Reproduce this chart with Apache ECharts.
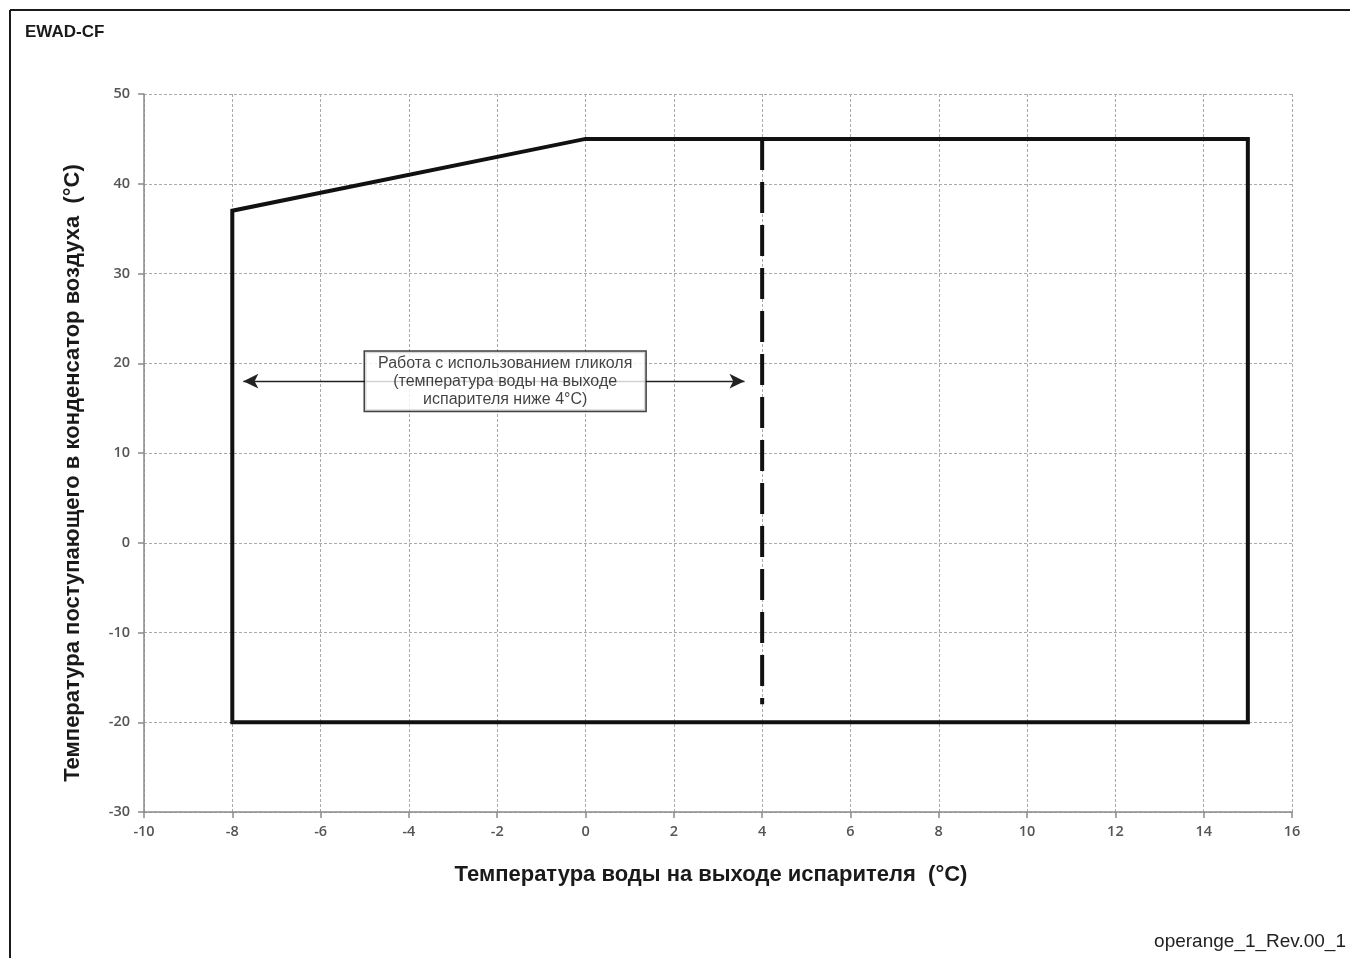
<!DOCTYPE html>
<html>
<head>
<meta charset="utf-8">
<script src="https://cdn.jsdelivr.net/npm/echarts@6/dist/echarts.min.js"></script>
<style>
  html, body { margin: 0; padding: 0; background: #fff; }
  #chart { width: 1350px; height: 958px; }
</style>
</head>
<body>
<div id="chart"></div>
<script>
// ---- data ----
const titleText = 'EWAD-CF';
const footerText = 'operange_1_Rev.00_1';
const xAxisName = 'Температура воды на выходе испарителя  (°C)';
const yAxisName = 'Температура поступающего в конденсатор воздуха  (°C)';
const xTicks = [-10, -8, -6, -4, -2, 0, 2, 4, 6, 8, 10, 12, 14, 16];
const yTicks = [-30, -20, -10, 0, 10, 20, 30, 40, 50];
const envelopeX = [-8, -8, 0, 15, 15, -8];
const envelopeY = [-20, 37, 45, 45, -20, -20];
const glycolX = [4, 4];
const glycolY = [45, -18];
const arrowX = [-7.75, 3.6];
const arrowY = [18, 18];
const noteLines = ['Работа с использованием гликоля', '(температура воды на выходе', 'испарителя ниже 4°C)'];
const notePos = [-1.82, 18];

const chart = echarts.init(document.getElementById('chart'), null, { renderer: 'canvas' });

const tickFont = { fontFamily: 'Open Sans', fontWeight: 600, fontSize: 14.5, color: '#555' };

const option = {
  animation: false,
  backgroundColor: '#fff',
  grid: { left: 144, right: 58, top: 94, bottom: 146, containLabel: false },
  xAxis: {
    type: 'value',
    min: xTicks[0], max: xTicks[xTicks.length - 1], interval: 2,
    name: xAxisName, nameLocation: 'middle', nameGap: 52,
    nameTextStyle: { fontFamily: 'Liberation Sans', fontWeight: 'bold', fontSize: 22, color: '#1a1a1a', padding: [0, 14, 0, 0] },
    axisLine: { show: true, onZero: false, lineStyle: { color: '#8a8a8a', width: 1.5 } },
    axisTick: { show: true, length: 6, inside: false, lineStyle: { color: '#8a8a8a', width: 1.5 } },
    axisLabel: Object.assign({ margin: 12 }, tickFont),
    splitLine: { show: true, lineStyle: { color: '#aaaaaa', type: [3, 2], width: 1 } }
  },
  yAxis: {
    type: 'value',
    min: yTicks[0], max: yTicks[yTicks.length - 1], interval: 10,
    name: yAxisName, nameLocation: 'middle', nameGap: 60, nameRotate: 90,
    nameTextStyle: { fontFamily: 'Liberation Sans', fontWeight: 'bold', fontSize: 22, color: '#1a1a1a', padding: [0, 40, 0, 0] },
    axisLine: { show: true, onZero: false, lineStyle: { color: '#8a8a8a', width: 1.5 } },
    axisTick: { show: true, length: 6, inside: false, lineStyle: { color: '#8a8a8a', width: 1.5 } },
    axisLabel: Object.assign({ margin: 14 }, tickFont),
    splitLine: { show: true, lineStyle: { color: '#aaaaaa', type: [3, 2], width: 1 } }
  },
  series: [
    {
      name: 'envelope', type: 'line', z: 5,
      data: envelopeX.map((x, i) => [x, envelopeY[i]]),
      showSymbol: false, symbol: 'none',
      lineStyle: { color: '#111', width: 4, join: 'miter', cap: 'square' }
    },
    {
      name: 'glycol', type: 'line', z: 6,
      data: glycolX.map((x, i) => [x, glycolY[i]]),
      showSymbol: false, symbol: 'none',
      lineStyle: { color: '#111', width: 4, type: [31, 12], cap: 'butt' }
    },
    {
      name: 'arrow', type: 'line', z: 7,
      data: [],
      markLine: {
        silent: true, animation: false,
        symbol: ['arrow', 'arrow'], symbolSize: [11, 15],
        label: { show: false },
        lineStyle: { color: '#222', width: 1.3, type: 'solid' },
        data: [[{ coord: [arrowX[0], arrowY[0]] }, { coord: [arrowX[1], arrowY[1]] }]]
      }
    },
    {
      name: 'note', type: 'scatter', z: 10,
      data: [notePos], symbolSize: 0.001,
      itemStyle: { color: 'transparent' },
      label: {
        show: true, position: 'inside',
        formatter: noteLines.join('\n'),
        fontFamily: 'Liberation Sans', fontSize: 16, color: '#111', lineHeight: 18,
        align: 'center', verticalAlign: 'middle',
        backgroundColor: '#fff', borderColor: '#111', borderWidth: 1.5,
        padding: [2, 13, 3, 13]
      }
    }
  ],
  graphic: [
    { type: 'line', shape: { x1: 10, y1: 10, x2: 1350, y2: 10 }, style: { stroke: '#1a1a1a', lineWidth: 2 } },
    { type: 'line', shape: { x1: 10, y1: 10, x2: 10, y2: 958 }, style: { stroke: '#1a1a1a', lineWidth: 2 } },
    { type: 'text', left: 25, top: 24, style: { text: titleText, font: 'bold 17px "Liberation Sans"', fill: '#1a1a1a' } },
    { type: 'text', right: 4, top: 932, style: { text: footerText, font: '19px "Liberation Sans"', fill: '#222' } }
  ]
};
chart.setOption(option);
</script>
</body>
</html>
